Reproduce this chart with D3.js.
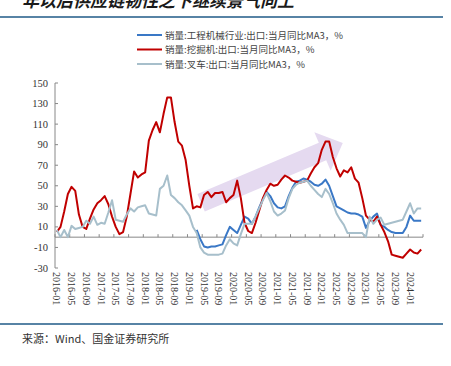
<!DOCTYPE html>
<html lang="zh">
<head>
  <meta charset="utf-8">
  <title>chart</title>
  <script src="https://d3js.org/d3.v7.min.js"></script>
  <style>
    body { margin: 0; background: #fff; }
    svg { display: block; }
  </style>
</head>
<body>
<svg width="451" height="366"></svg>
<script>
  // monthly data 2016-01 .. 2024-04
  const startMonth = "2016-01";
  const tickLabels = ["2016-01","2016-05","2016-09","2017-01","2017-05","2017-09","2018-01","2018-05","2018-09",
    "2019-01","2019-05","2019-09","2020-01","2020-05","2020-09","2021-01","2021-05","2021-09",
    "2022-01","2022-05","2022-09","2023-01","2023-05","2023-09","2024-01"];
  const yTicks = [150, 130, 110, 90, 70, 50, 30, 10, -10, -30];

  const seriesNames = [
    "销量:工程机械行业:出口:当月同比MA3，%",
    "销量:挖掘机:出口:当月同比MA3，%",
    "销量:叉车:出口:当月同比MA3，%"
  ];

  // 工程机械行业 (starts 2019-03)
  const machinery = [
    null,null,null,null,null,null,null,null,null,null,null,null,
    null,null,null,null,null,null,null,null,null,null,null,null,
    null,null,null,null,null,null,null,null,null,null,null,null,
    null,null,7,-2,-9,-10,-9,-9,-8,-7,2,10,
    7,4,12,20,18,13,20,29,37,44,40,33,
    29,28,30,40,48,54,55,57,56,54,51,50,
    52,56,50,40,30,28,26,24,23,23,22,20,
    9,16,20,23,12,10,7,5,4,4,4,10,
    21,16,16,16
  ];
  // 挖掘机
  const excavator = [
    5,10,25,42,49,45,22,10,8,18,27,33,
    36,40,32,20,10,3,5,20,42,64,58,61,
    63,94,104,112,102,120,136,136,112,93,89,75,
    50,28,30,29,41,44,39,43,43,44,34,38,
    41,55,38,14,6,4,14,26,38,46,52,50,
    51,56,60,58,55,54,53,54,55,62,68,72,
    85,93,93,78,67,59,65,63,68,57,53,38,
    21,17,15,20,12,5,-4,-17,-18,-19,-20,-16,
    -12,-15,-16,-12
  ];
  // 叉车
  const forklift = [
    7,0,7,0,11,8,9,10,16,13,20,12,
    14,13,24,36,17,16,15,22,28,25,29,30,
    31,23,22,21,47,50,60,41,38,34,31,26,
    21,10,4,-10,-15,-17,-17,-17,-17,-16,-8,-2,
    -6,-8,3,13,13,13,20,28,36,43,35,25,
    21,23,26,38,47,51,53,54,55,50,46,42,
    39,47,42,33,23,17,12,4,4,4,4,4,
    0,20,13,17,19,12,13,14,15,16,17,25,
    33,23,28,28
  ];

  // arrow annotation: tail / tip as [monthIndex, value]
  const arrowTail = [39.2, 33.5];
  const arrowTip = [77.7, 91.7];

  const colors = ["#3a78c6", "#c00000", "#a7bfcb"];
  const serif = "'Liberation Serif','Times New Roman',serif";
  const cjk = "'Noto Sans CJK SC',sans-serif";

  const svg = d3.select("svg");
  const n = excavator.length;
  const parse = d3.utcParse("%Y-%m");
  const months = d3.range(n).map(i => d3.utcMonth.offset(parse(startMonth), i));
  const fmt = d3.utcFormat("%Y-%m");

  const plotL = 55, plotR = 423, plotT = 83, plotB = 268;
  const x = d3.scaleLinear().domain([0, n]).range([plotL, plotR]);
  const xc = i => x(i + 0.5);
  const y = d3.scaleLinear().domain([-30, 150]).range([plotB, plotT]);

  // title (cut off at top)
  svg.append("text").attr("x", 22).attr("y", 7)
    .attr("font-family", cjk).attr("font-size", 17).attr("font-weight", "bold")
    .attr("font-style", "italic").attr("fill", "#1a1a1a")
    .text("年以后供应链韧性之下继续景气向上");

  svg.append("line").attr("x1", 0).attr("x2", 443).attr("y1", 17).attr("y2", 17)
    .attr("stroke", "#1f5a87").attr("stroke-width", 1.5);
  svg.append("line").attr("x1", 0).attr("x2", 443).attr("y1", 324).attr("y2", 324)
    .attr("stroke", "#1f5a87").attr("stroke-width", 1.5);

  svg.append("text").attr("x", 22).attr("y", 343)
    .attr("font-family", cjk).attr("font-size", 11).attr("fill", "#333")
    .text("来源：Wind、国金证券研究所");

  // legend
  const legend = svg.append("g");
  seriesNames.forEach((name, i) => {
    const ly = 35 + i * 14.5;
    legend.append("line").attr("x1", 137).attr("x2", 162).attr("y1", ly).attr("y2", ly)
      .attr("stroke", colors[i]).attr("stroke-width", 2);
    legend.append("text").attr("x", 165).attr("y", ly + 3.5)
      .attr("font-family", cjk).attr("font-size", 9.5).attr("fill", "#444")
      .text(name);
  });

  // arrow
  const ax0 = xc(arrowTail[0]), ay0 = y(arrowTail[1]);
  const ax1 = xc(arrowTip[0]), ay1 = y(arrowTip[1]);
  const len = Math.hypot(ax1 - ax0, ay1 - ay0);
  const ux = (ax1 - ax0) / len, uy = (ay1 - ay0) / len;
  const nx = -uy, ny = ux;
  const bw = 9.5, hw = 21, hl = 22;
  const bx = ax1 - ux * hl, by = ay1 - uy * hl;
  const pts = [
    [ax0 + nx * bw, ay0 + ny * bw],
    [bx + nx * bw, by + ny * bw],
    [bx + nx * hw, by + ny * hw],
    [ax1, ay1],
    [bx - nx * hw, by - ny * hw],
    [bx - nx * bw, by - ny * bw],
    [ax0 - nx * bw, ay0 - ny * bw]
  ];
  svg.append("polygon").attr("points", pts.map(p => p.join(",")).join(" "))
    .attr("fill", "#e5daf0");

  // y axis
  svg.append("line").attr("x1", plotL).attr("x2", plotL).attr("y1", plotT).attr("y2", plotB)
    .attr("stroke", "#888").attr("stroke-width", 1);
  yTicks.forEach(t => {
    svg.append("line").attr("x1", plotL).attr("x2", plotL + 3).attr("y1", y(t)).attr("y2", y(t))
      .attr("stroke", "#888");
    svg.append("text").attr("x", plotL - 7).attr("y", y(t) + 3.5).attr("text-anchor", "end")
      .attr("font-family", serif).attr("font-size", 10.5).attr("fill", "#333").text(t);
  });

  // x axis at zero
  svg.append("line").attr("x1", plotL).attr("x2", plotR).attr("y1", y(0)).attr("y2", y(0))
    .attr("stroke", "#888").attr("stroke-width", 1);
  d3.range(0, n + 1, 4).forEach(i => {
    svg.append("line").attr("x1", x(i)).attr("x2", x(i)).attr("y1", y(0)).attr("y2", y(0) - 3)
      .attr("stroke", "#888");
  });
  tickLabels.forEach(lab => {
    const i = months.findIndex(d => fmt(d) === lab);
    svg.append("text")
      .attr("transform", `translate(${xc(i) - 3.5},${plotB + 4}) rotate(90)`)
      .attr("font-family", serif).attr("font-size", 10).attr("fill", "#333").text(lab);
  });

  // lines
  const line = d3.line().defined(d => d != null).x((d, i) => xc(i)).y(d => y(d));
  [machinery, excavator, forklift].forEach((s, k) => {
    svg.append("path").datum(s).attr("d", line).attr("fill", "none")
      .attr("stroke", colors[k]).attr("stroke-width", 2).attr("stroke-linejoin", "round");
  });
</script>
</body>
</html>
